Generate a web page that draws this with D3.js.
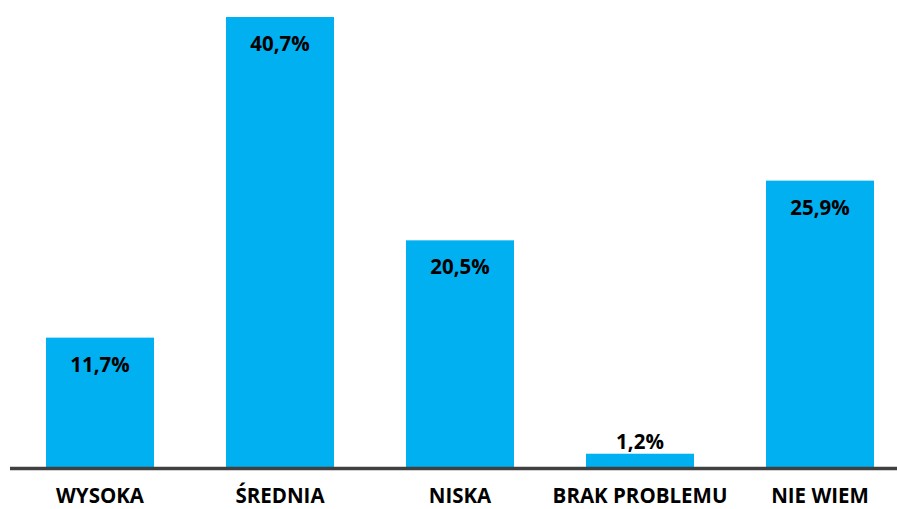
<!DOCTYPE html>
<html><head><meta charset="utf-8">
<script src="https://cdn.jsdelivr.net/npm/d3@7"></script>
<style>html,body{margin:0;padding:0;background:#fff;}</style>
</head><body>
<script>
const categories = ["WYSOKA", "ŚREDNIA", "NISKA", "BRAK PROBLEMU", "NIE WIEM"];
const values = [11.7, 40.7, 20.5, 1.2, 25.9];
const valueLabels = ["11,7%", "40,7%", "20,5%", "1,2%", "25,9%"];

const W = 897, H = 509;
const baseY = 467;
const svg = d3.select("body").append("svg").attr("width", W).attr("height", H);
const x = d3.scaleBand().domain(categories).range([10, 910]).paddingInner(0.4).paddingOuter(0.2);
const y = d3.scaleLinear().domain([0, 40.7]).range([baseY, 17]);
const font = "'Open Sans', sans-serif";

svg.selectAll("rect.bar").data(categories).enter().append("rect")
  .attr("x", d => x(d)).attr("width", x.bandwidth())
  .attr("y", (d, i) => y(values[i])).attr("height", (d, i) => baseY - y(values[i]))
  .attr("fill", "#00B0F0");

svg.append("line").attr("x1", 10).attr("x2", W).attr("y1", baseY + 1.5).attr("y2", baseY + 1.5)
  .attr("stroke", "#404040").attr("stroke-width", 3.5);

svg.selectAll("text.val").data(categories).enter().append("text")
  .attr("x", d => x(d) + x.bandwidth() / 2)
  .attr("y", (d, i) => (baseY - y(values[i]) > 40) ? y(values[i]) + 34 : y(values[i]) - 5)
  .attr("text-anchor", "middle").attr("font-family", font).attr("font-weight", "bold")
  .attr("font-size", 20.5).attr("fill", "#000")
  .text((d, i) => valueLabels[i]);

const xAxis = d3.axisBottom(x).tickSize(0).tickPadding(0);
const g = svg.append("g").attr("transform", `translate(0,${baseY})`).call(xAxis);
g.select(".domain").remove();
g.selectAll("text").attr("y", 36).attr("dy", 0).attr("font-family", font).attr("font-weight", "bold")
  .attr("font-size", 20.5).attr("fill", "#000");
</script>
</body></html>
